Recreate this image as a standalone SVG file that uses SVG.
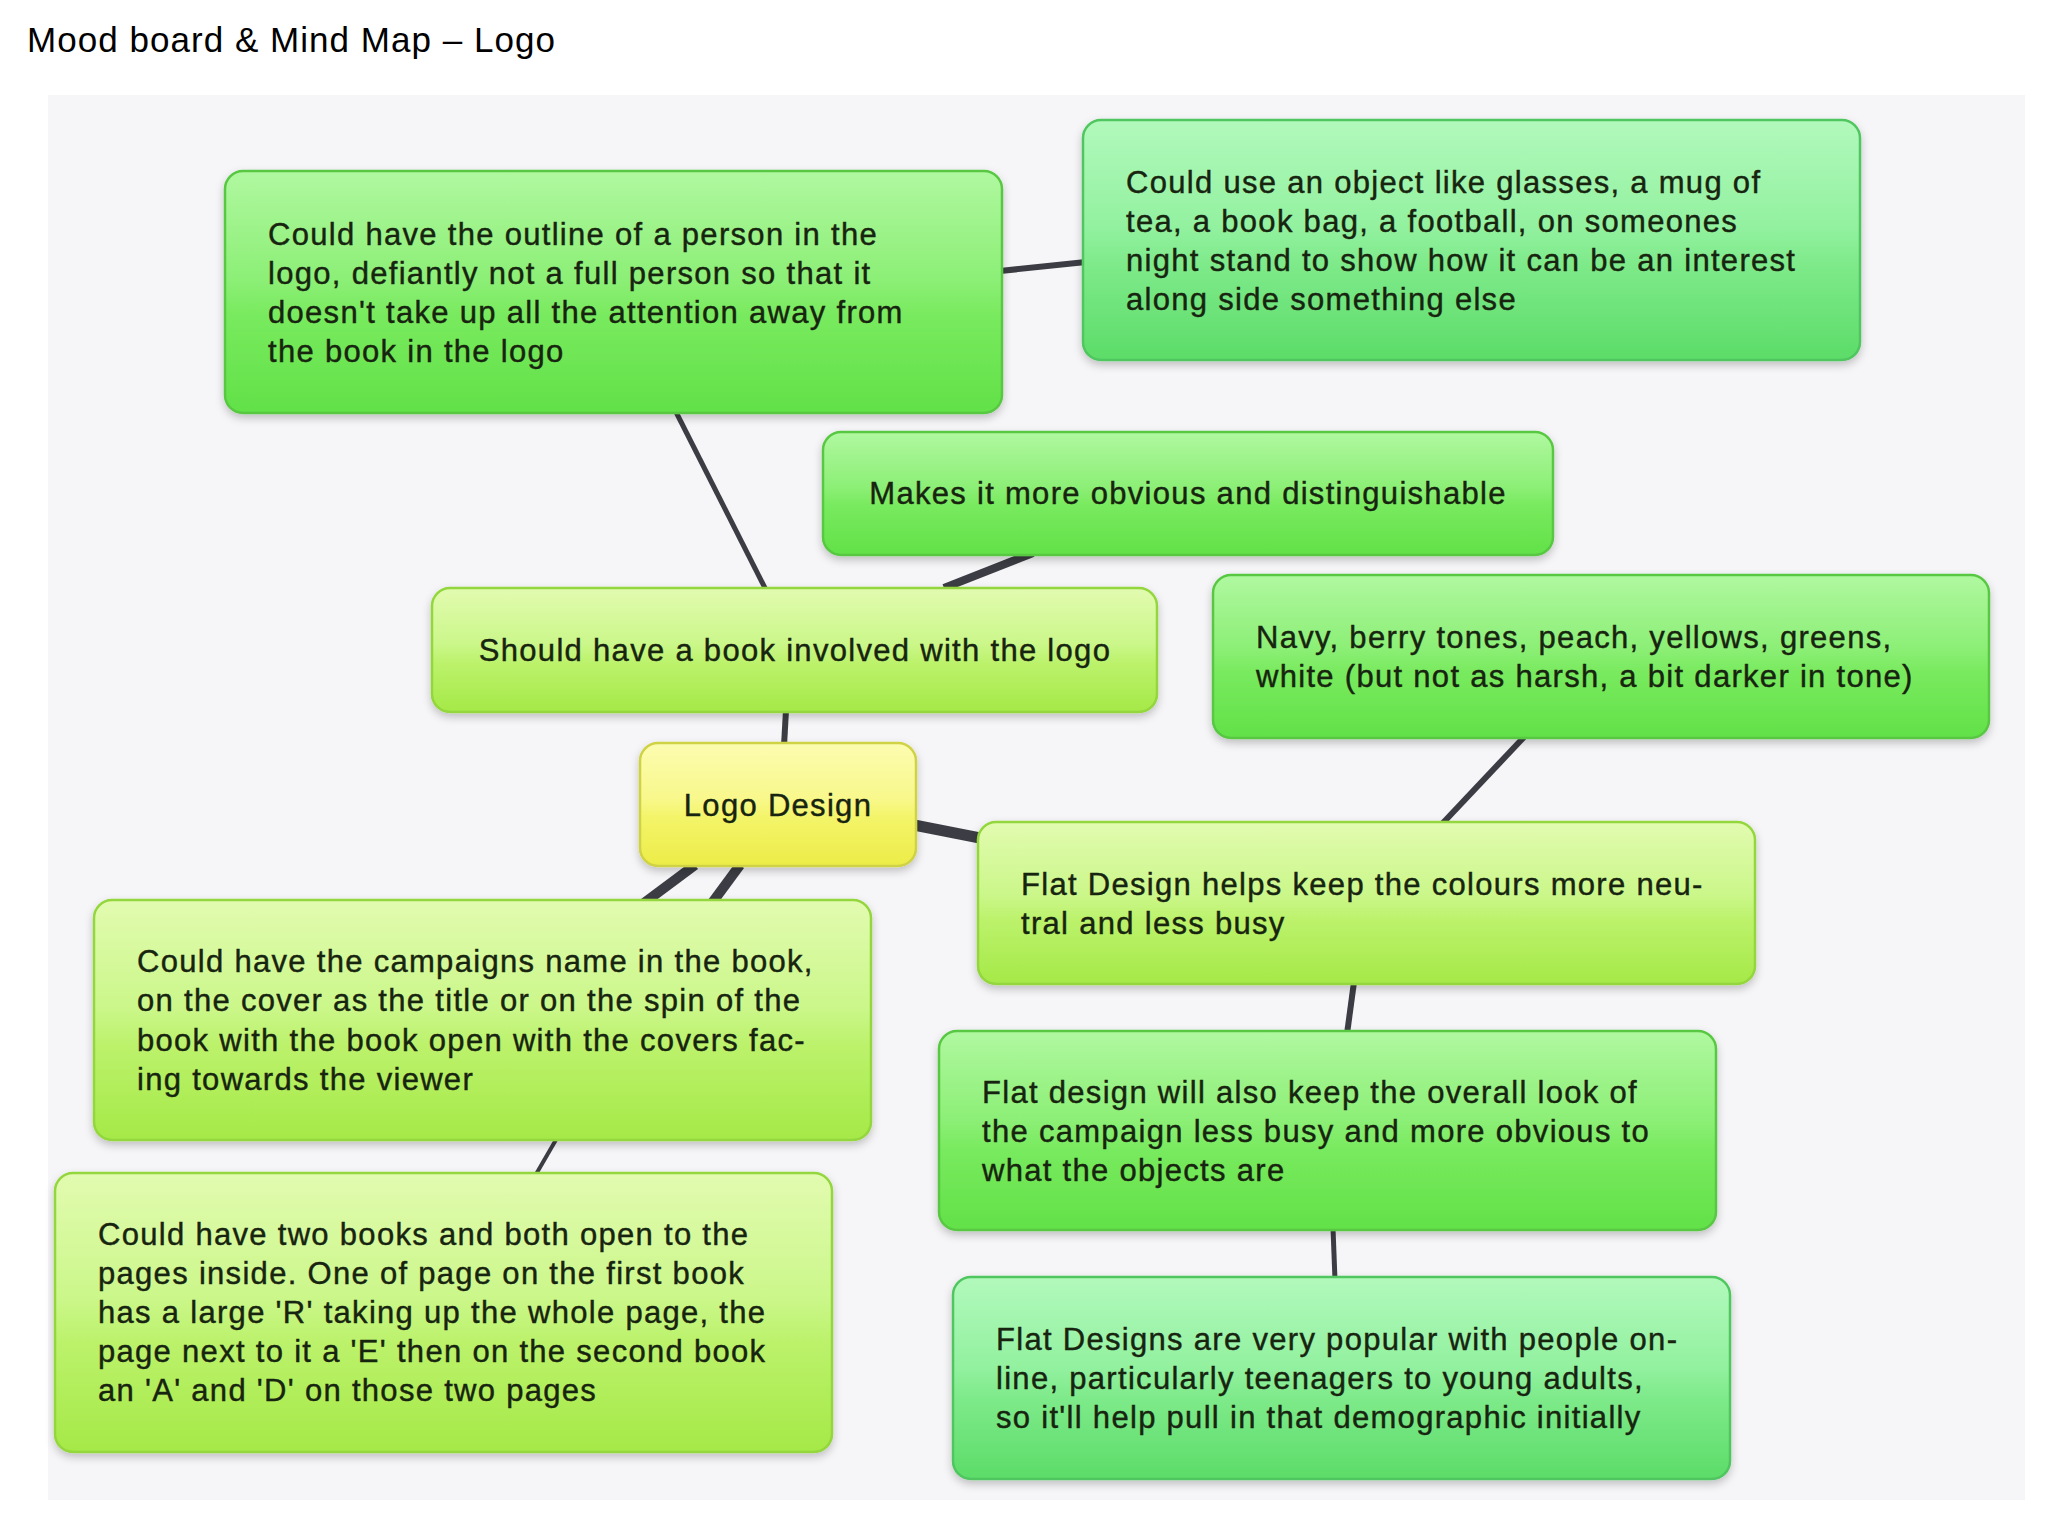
<svg xmlns="http://www.w3.org/2000/svg" width="2048" height="1536" viewBox="0 0 2048 1536">
  <defs>
    <linearGradient id="gGreen" x1="0" y1="0" x2="0" y2="1">
      <stop offset="0" stop-color="#b0f8a0"/>
      <stop offset="0.45" stop-color="#8cef76"/>
      <stop offset="0.6" stop-color="#78ea5e"/>
      <stop offset="1" stop-color="#62e148"/>
    </linearGradient>
    <linearGradient id="gMint" x1="0" y1="0" x2="0" y2="1">
      <stop offset="0" stop-color="#b2f9bc"/>
      <stop offset="0.45" stop-color="#92f19f"/>
      <stop offset="0.6" stop-color="#7eea8a"/>
      <stop offset="1" stop-color="#5cdc68"/>
    </linearGradient>
    <linearGradient id="gLime" x1="0" y1="0" x2="0" y2="1">
      <stop offset="0" stop-color="#e2fbb0"/>
      <stop offset="0.45" stop-color="#cbf78a"/>
      <stop offset="0.6" stop-color="#bcf26c"/>
      <stop offset="1" stop-color="#a5e947"/>
    </linearGradient>
    <linearGradient id="gYellow" x1="0" y1="0" x2="0" y2="1">
      <stop offset="0" stop-color="#fcfcb0"/>
      <stop offset="0.45" stop-color="#f8f88c"/>
      <stop offset="0.6" stop-color="#f4f46a"/>
      <stop offset="1" stop-color="#ecec48"/>
    </linearGradient>
    <filter id="sh" x="-5%" y="-10%" width="110%" height="130%">
      <feDropShadow dx="0" dy="4" stdDeviation="4" flood-color="#000" flood-opacity="0.22"/>
    </filter>
  </defs>
  <style>
    .box { stroke-width: 2.5; filter: url(#sh); }
    .green { fill: url(#gGreen); stroke: #58c843; }
    .mint { fill: url(#gMint); stroke: #4fc65e; }
    .lime { fill: url(#gLime); stroke: #93d63c; }
    .yellow { fill: url(#gYellow); stroke: #cfd244; }
    .t { font-family: "Liberation Sans", Arial, sans-serif; font-size: 31px; letter-spacing: 1.3px; fill: #17240f; stroke: #17240f; stroke-width: 0.4; }
    .c { text-anchor: middle; }
    .edge { stroke: #3c3c44; stroke-linecap: butt; fill: none; }
    .title { font-family: "Liberation Sans", Arial, sans-serif; font-size: 35px; fill: #000; }
  </style>

  <rect x="0" y="0" width="2048" height="1536" fill="#ffffff"/>
  <rect x="48" y="95" width="1977" height="1405" fill="#f6f6f8"/>
  <text class="title" x="27" y="52" textLength="528" lengthAdjust="spacing">Mood board &amp; Mind Map – Logo</text>

  <g id="connectors">
    <line class="edge" x1="675" y1="410" x2="766" y2="590" stroke-width="5"/>
    <line class="edge" x1="1000" y1="271" x2="1086" y2="262" stroke-width="6"/>
    <line class="edge" x1="944" y1="588" x2="1033" y2="553" stroke-width="8"/>
    <line class="edge" x1="786" y1="710" x2="784" y2="746" stroke-width="6"/>
    <line class="edge" x1="914" y1="825" x2="980" y2="838" stroke-width="11"/>
    <line class="edge" x1="1525" y1="736" x2="1441" y2="825" stroke-width="6"/>
    <line class="edge" x1="695" y1="865" x2="644" y2="903" stroke-width="10"/>
    <line class="edge" x1="740" y1="865" x2="712" y2="903" stroke-width="10"/>
    <line class="edge" x1="557" y1="1138" x2="535" y2="1176" stroke-width="4"/>
    <line class="edge" x1="1354" y1="982" x2="1347" y2="1034" stroke-width="6"/>
    <line class="edge" x1="1333" y1="1228" x2="1335" y2="1280" stroke-width="5"/>
  </g>

  <g id="node-outline-person">
    <rect class="box green" x="225" y="171" width="777" height="242" rx="18"/>
    <text class="t" x="268" y="245">Could have the outline of a person in the</text>
    <text class="t" x="268" y="284">logo, defiantly not a full person so that it</text>
    <text class="t" x="268" y="323">doesn't take up all the attention away from</text>
    <text class="t" x="268" y="362">the book in the logo</text>
  </g>

  <g id="node-object">
    <rect class="box mint" x="1083" y="120" width="777" height="240" rx="18"/>
    <text class="t" x="1126" y="193">Could use an object like glasses, a mug of</text>
    <text class="t" x="1126" y="232">tea, a book bag, a football, on someones</text>
    <text class="t" x="1126" y="271">night stand to show how it can be an interest</text>
    <text class="t" x="1126" y="310">along side something else</text>
  </g>

  <g id="node-obvious">
    <rect class="box green" x="823" y="432" width="730" height="123" rx="18"/>
    <text class="t c" x="1188" y="504">Makes it more obvious and distinguishable</text>
  </g>

  <g id="node-book">
    <rect class="box lime" x="432" y="588" width="725" height="124" rx="18"/>
    <text class="t c" x="795" y="661">Should have a book involved with the logo</text>
  </g>

  <g id="node-colours">
    <rect class="box green" x="1213" y="575" width="776" height="163" rx="18"/>
    <text class="t" x="1256" y="648">Navy, berry tones, peach, yellows, greens,</text>
    <text class="t" x="1256" y="687">white (but not as harsh, a bit darker in tone)</text>
  </g>

  <g id="node-logo-design">
    <rect class="box yellow" x="640" y="743" width="276" height="123" rx="18"/>
    <text class="t c" x="778" y="816">Logo Design</text>
  </g>

  <g id="node-flat-neutral">
    <rect class="box lime" x="978" y="822" width="777" height="162" rx="18"/>
    <text class="t" x="1021" y="895">Flat Design helps keep the colours more neu-</text>
    <text class="t" x="1021" y="934">tral and less busy</text>
  </g>

  <g id="node-flat-overall">
    <rect class="box green" x="939" y="1031" width="777" height="199" rx="18"/>
    <text class="t" x="982" y="1103">Flat design will also keep the overall look of</text>
    <text class="t" x="982" y="1142">the campaign less busy and more obvious to</text>
    <text class="t" x="982" y="1181">what the objects are</text>
  </g>

  <g id="node-flat-popular">
    <rect class="box mint" x="953" y="1277" width="777" height="202" rx="18"/>
    <text class="t" x="996" y="1350">Flat Designs are very popular with people on-</text>
    <text class="t" x="996" y="1389">line, particularly teenagers to young adults,</text>
    <text class="t" x="996" y="1428">so it'll help pull in that demographic initially</text>
  </g>

  <g id="node-campaign-name">
    <rect class="box lime" x="94" y="900" width="777" height="240" rx="18"/>
    <text class="t" x="137" y="972">Could have the campaigns name in the book,</text>
    <text class="t" x="137" y="1011">on the cover as the title or on the spin of the</text>
    <text class="t" x="137" y="1051">book with the book open with the covers fac-</text>
    <text class="t" x="137" y="1090">ing towards the viewer</text>
  </g>

  <g id="node-two-books">
    <rect class="box lime" x="55" y="1173" width="777" height="279" rx="18"/>
    <text class="t" x="98" y="1245">Could have two books and both open to the</text>
    <text class="t" x="98" y="1284">pages inside. One of page on the first book</text>
    <text class="t" x="98" y="1323">has a large 'R' taking up the whole page, the</text>
    <text class="t" x="98" y="1362">page next to it a 'E' then on the second book</text>
    <text class="t" x="98" y="1401">an 'A' and 'D' on those two pages</text>
  </g>
</svg>
